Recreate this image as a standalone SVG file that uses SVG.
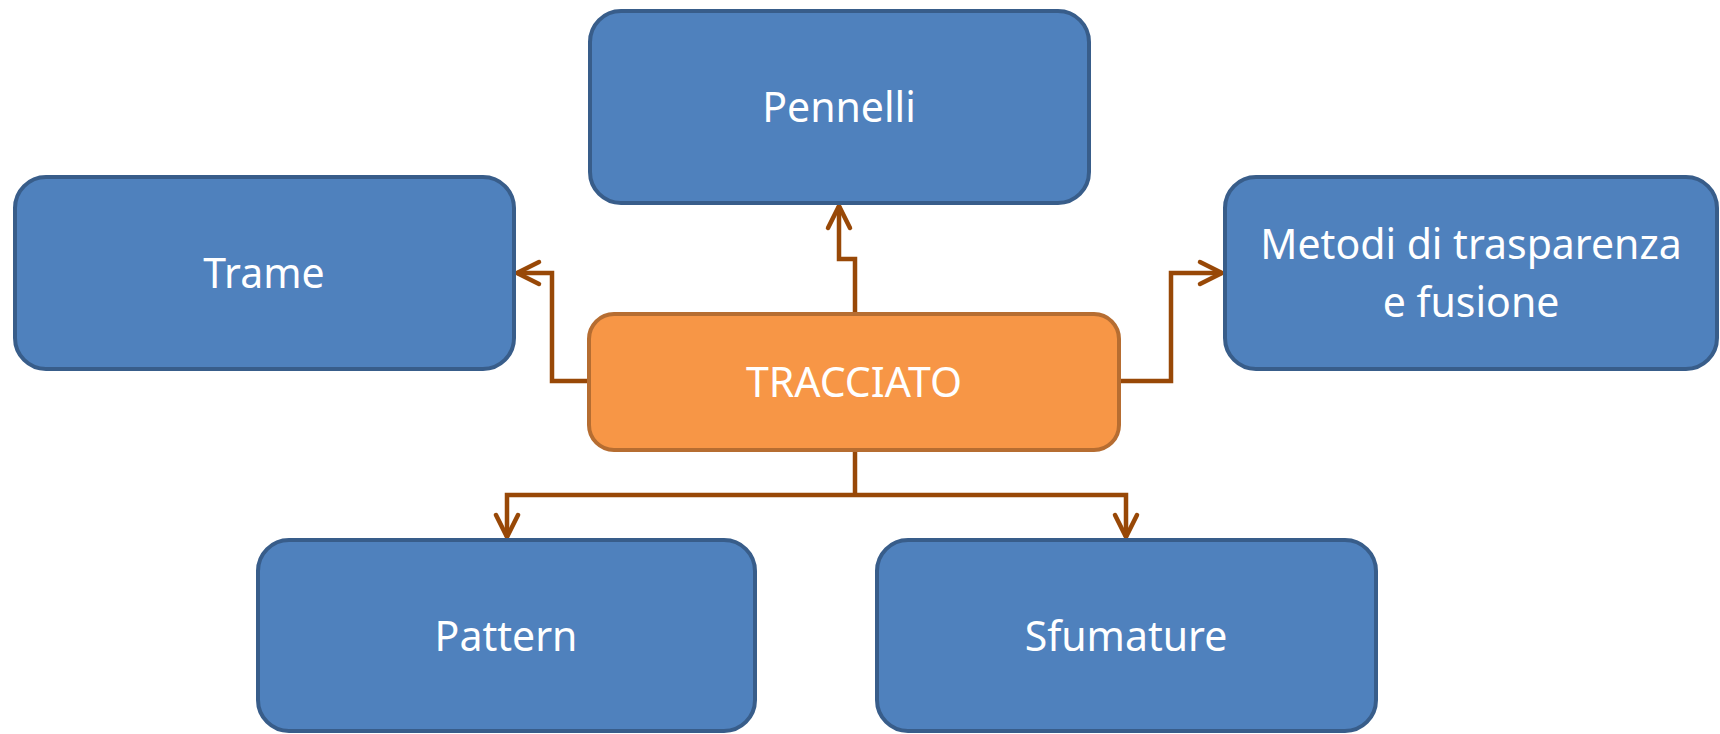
<svg xmlns="http://www.w3.org/2000/svg" width="1720" height="734" viewBox="0 0 1720 734">
<style>
.blue rect{fill:#4F81BD;stroke:#385D8A;stroke-width:4}
.orange rect{fill:#F79646;stroke:#B66D31;stroke-width:4}
text{font-family:"Noto Sans","Open Sans","Liberation Sans",sans-serif;font-size:41px;fill:#FFFFFF;text-anchor:middle}
.conn path{fill:none;stroke:#984807;stroke-width:4.5;stroke-linejoin:miter}
</style>
<defs>
<marker id="arr" markerUnits="userSpaceOnUse" viewBox="-28 -16 32 32" markerWidth="32" markerHeight="32" refX="0" refY="0" orient="auto">
<path d="M-22,-11 L0,0 L-22,11" fill="none" stroke="#984807" stroke-width="4.5" stroke-linecap="round" stroke-linejoin="round"/>
</marker>
</defs>
<rect width="1720" height="734" fill="#FFFFFF"/>
<g class="conn" id="connectors">
<path d="M855,312 V259 H839 V206" marker-end="url(#arr)"/>
<path d="M587,381 H552 V273 H517" marker-end="url(#arr)"/>
<path d="M1121,381 H1171 V273 H1222" marker-end="url(#arr)"/>
<path d="M855,452 V495"/>
<path d="M855,495 H507 V537" marker-end="url(#arr)"/>
<path d="M855,495 H1126 V537" marker-end="url(#arr)"/>
</g>
<g id="pennelli" class="blue">
<rect x="590" y="11" width="499" height="192" rx="31" ry="31"/>
<text x="839" y="122">Pennelli</text>
</g>
<g id="trame" class="blue">
<rect x="15" y="177" width="499" height="192" rx="31" ry="31"/>
<text x="264" y="288">Trame</text>
</g>
<g id="metodi" class="blue">
<rect x="1225" y="177" width="492" height="192" rx="31" ry="31"/>
<text x="1471" y="259">Metodi di trasparenza</text>
<text x="1471" y="317">e fusione</text>
</g>
<g id="tracciato" class="orange">
<rect x="589" y="314" width="530" height="136" rx="25" ry="25"/>
<text x="854" y="397">TRACCIATO</text>
</g>
<g id="pattern" class="blue">
<rect x="258" y="540" width="497" height="191" rx="31" ry="31"/>
<text x="506" y="651">Pattern</text>
</g>
<g id="sfumature" class="blue">
<rect x="877" y="540" width="499" height="191" rx="31" ry="31"/>
<text x="1126" y="651">Sfumature</text>
</g>
</svg>
